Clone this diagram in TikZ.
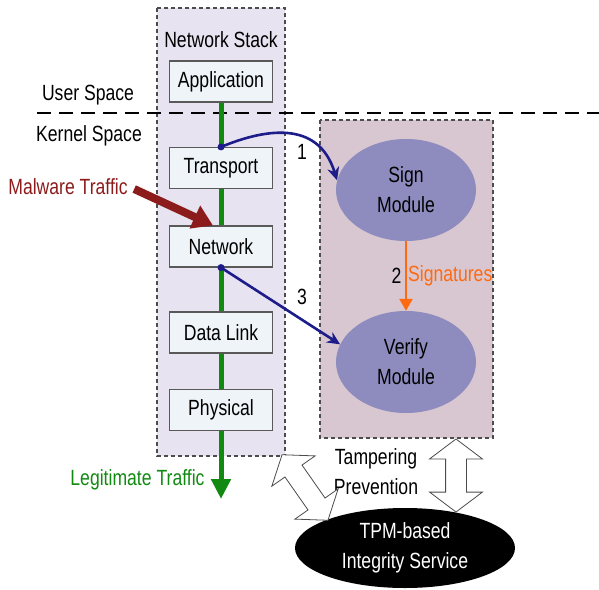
\documentclass[tikz,border=0pt]{standalone}
\usepackage{fontspec}
\setmainfont{Liberation Sans}[FakeStretch=0.8]
\usetikzlibrary{arrows.meta,shapes.geometric,shapes.arrows}
\definecolor{stackfill}{HTML}{E8E3F0}
\definecolor{sidefill}{HTML}{D8C7D0}
\definecolor{layerfill}{HTML}{EEF4F7}
\definecolor{modfill}{HTML}{8E8CBE}
\definecolor{legitgreen}{HTML}{128A12}
\definecolor{malred}{HTML}{8C1C1C}
\definecolor{ctrlblue}{HTML}{1C1C8A}
\definecolor{sigorange}{HTML}{FF6A10}

\begin{document}
\begin{tikzpicture}[x=1pt,y=-1pt,
	every node/.append style={font=\fontsize{22}{30}\selectfont},
	region/.style={draw=black!70,line width=1.1pt,dash pattern=on 4pt off 3pt},
	layer/.style={draw=black!65,fill=layerfill,line width=1.1pt,minimum width=103pt,minimum height=41pt,inner sep=0pt},
	module/.style={ellipse,fill=modfill,minimum width=140pt,minimum height=102pt,align=center},
	traffic/.style={draw=legitgreen,line width=5pt},
	ctrl/.style={draw=ctrlblue,line width=2.6pt,-{Stealth[length=13pt,width=12pt]}},
	hollow/.style={double arrow,draw=black!70,fill=white,line width=0.8pt,double arrow head extend=16pt,double arrow tip angle=106,inner sep=10pt,minimum height=73pt}]
	\useasboundingbox (0,0) rectangle (599,589);
	\draw[region,fill=stackfill] (157,8) rectangle (285,456);
	\draw[region,fill=sidefill] (320,120) rectangle (493,438);
	\draw[line width=2pt,dash pattern=on 14pt off 8pt] (37,113) -- (599,113);
	\node (stack) at (221,40) {Network Stack};
	\node (user) at (88,95) {User Space};
	\node (kernel) at (89,136) {Kernel Space};
	\node[layer] (app) at (221,81.5) {Application};
	\node[layer] (transport) at (221,168) {Transport};
	\node[layer] (network) at (221,246.5) {Network};
	\node[layer] (datalink) at (221,332.5) {Data Link};
	\node[layer] (physical) at (221,410) {Physical};
	\foreach \a/\b in {app/transport,transport/network,network/datalink,datalink/physical}
		\draw[traffic] (\a.south) -- (\b.north);
	\coordinate (legitend) at (221,499);
	\draw[traffic,-{Triangle[length=20pt,width=19pt]}] (physical.south) -- (legitend);
	\node[text=legitgreen,anchor=east] (legit) at (208,480) {Legitimate Traffic};
	\node[text=malred] (malware) at (68,187) {Malware Traffic};
	\draw[malred,line width=8pt,-{Triangle[length=20pt,width=24pt]}] ([xshift=3pt,yshift=-2pt]malware.east) -- ([xshift=-8pt]network.north);
	\node[module] (sign) at (406,190) {Sign\\Module};
	\node[module] (verify) at (406,362) {Verify\\Module};
	\draw[draw=sigorange,line width=2.4pt,-{Triangle[length=12pt,width=13pt]}] (sign.south) -- (verify.north)
		node[midway,left,text=black] {2} node[midway,right,text=sigorange,inner sep=1pt] {Signatures};
	\fill[ctrlblue] (transport.north) circle (3.5pt);
	\fill[ctrlblue] (network.south) circle (3.5pt);
	\draw[ctrl] (transport.north) .. controls (262,130) and (318,118) .. (sign.172);
	\draw[ctrl] (network.south) -- (verify.165);
	\node (one) at (302,152) {1};
	\node (three) at (302,297) {3};
	\node[ellipse,fill=black,text=white,minimum width=220pt,minimum height=80pt,align=center,inner sep=0pt] (tpm) at (405,548) {TPM-based\\Integrity Service};
	\node[align=center] (tamper) at (376,472) {Tampering\\Prevention};
	\node[hollow,rotate=90] (guard) at (456,475.5) {};
	\node[hollow,rotate=125,minimum height=80pt] (guardstack) at (305,487.5) {};
\end{tikzpicture}
\end{document}
